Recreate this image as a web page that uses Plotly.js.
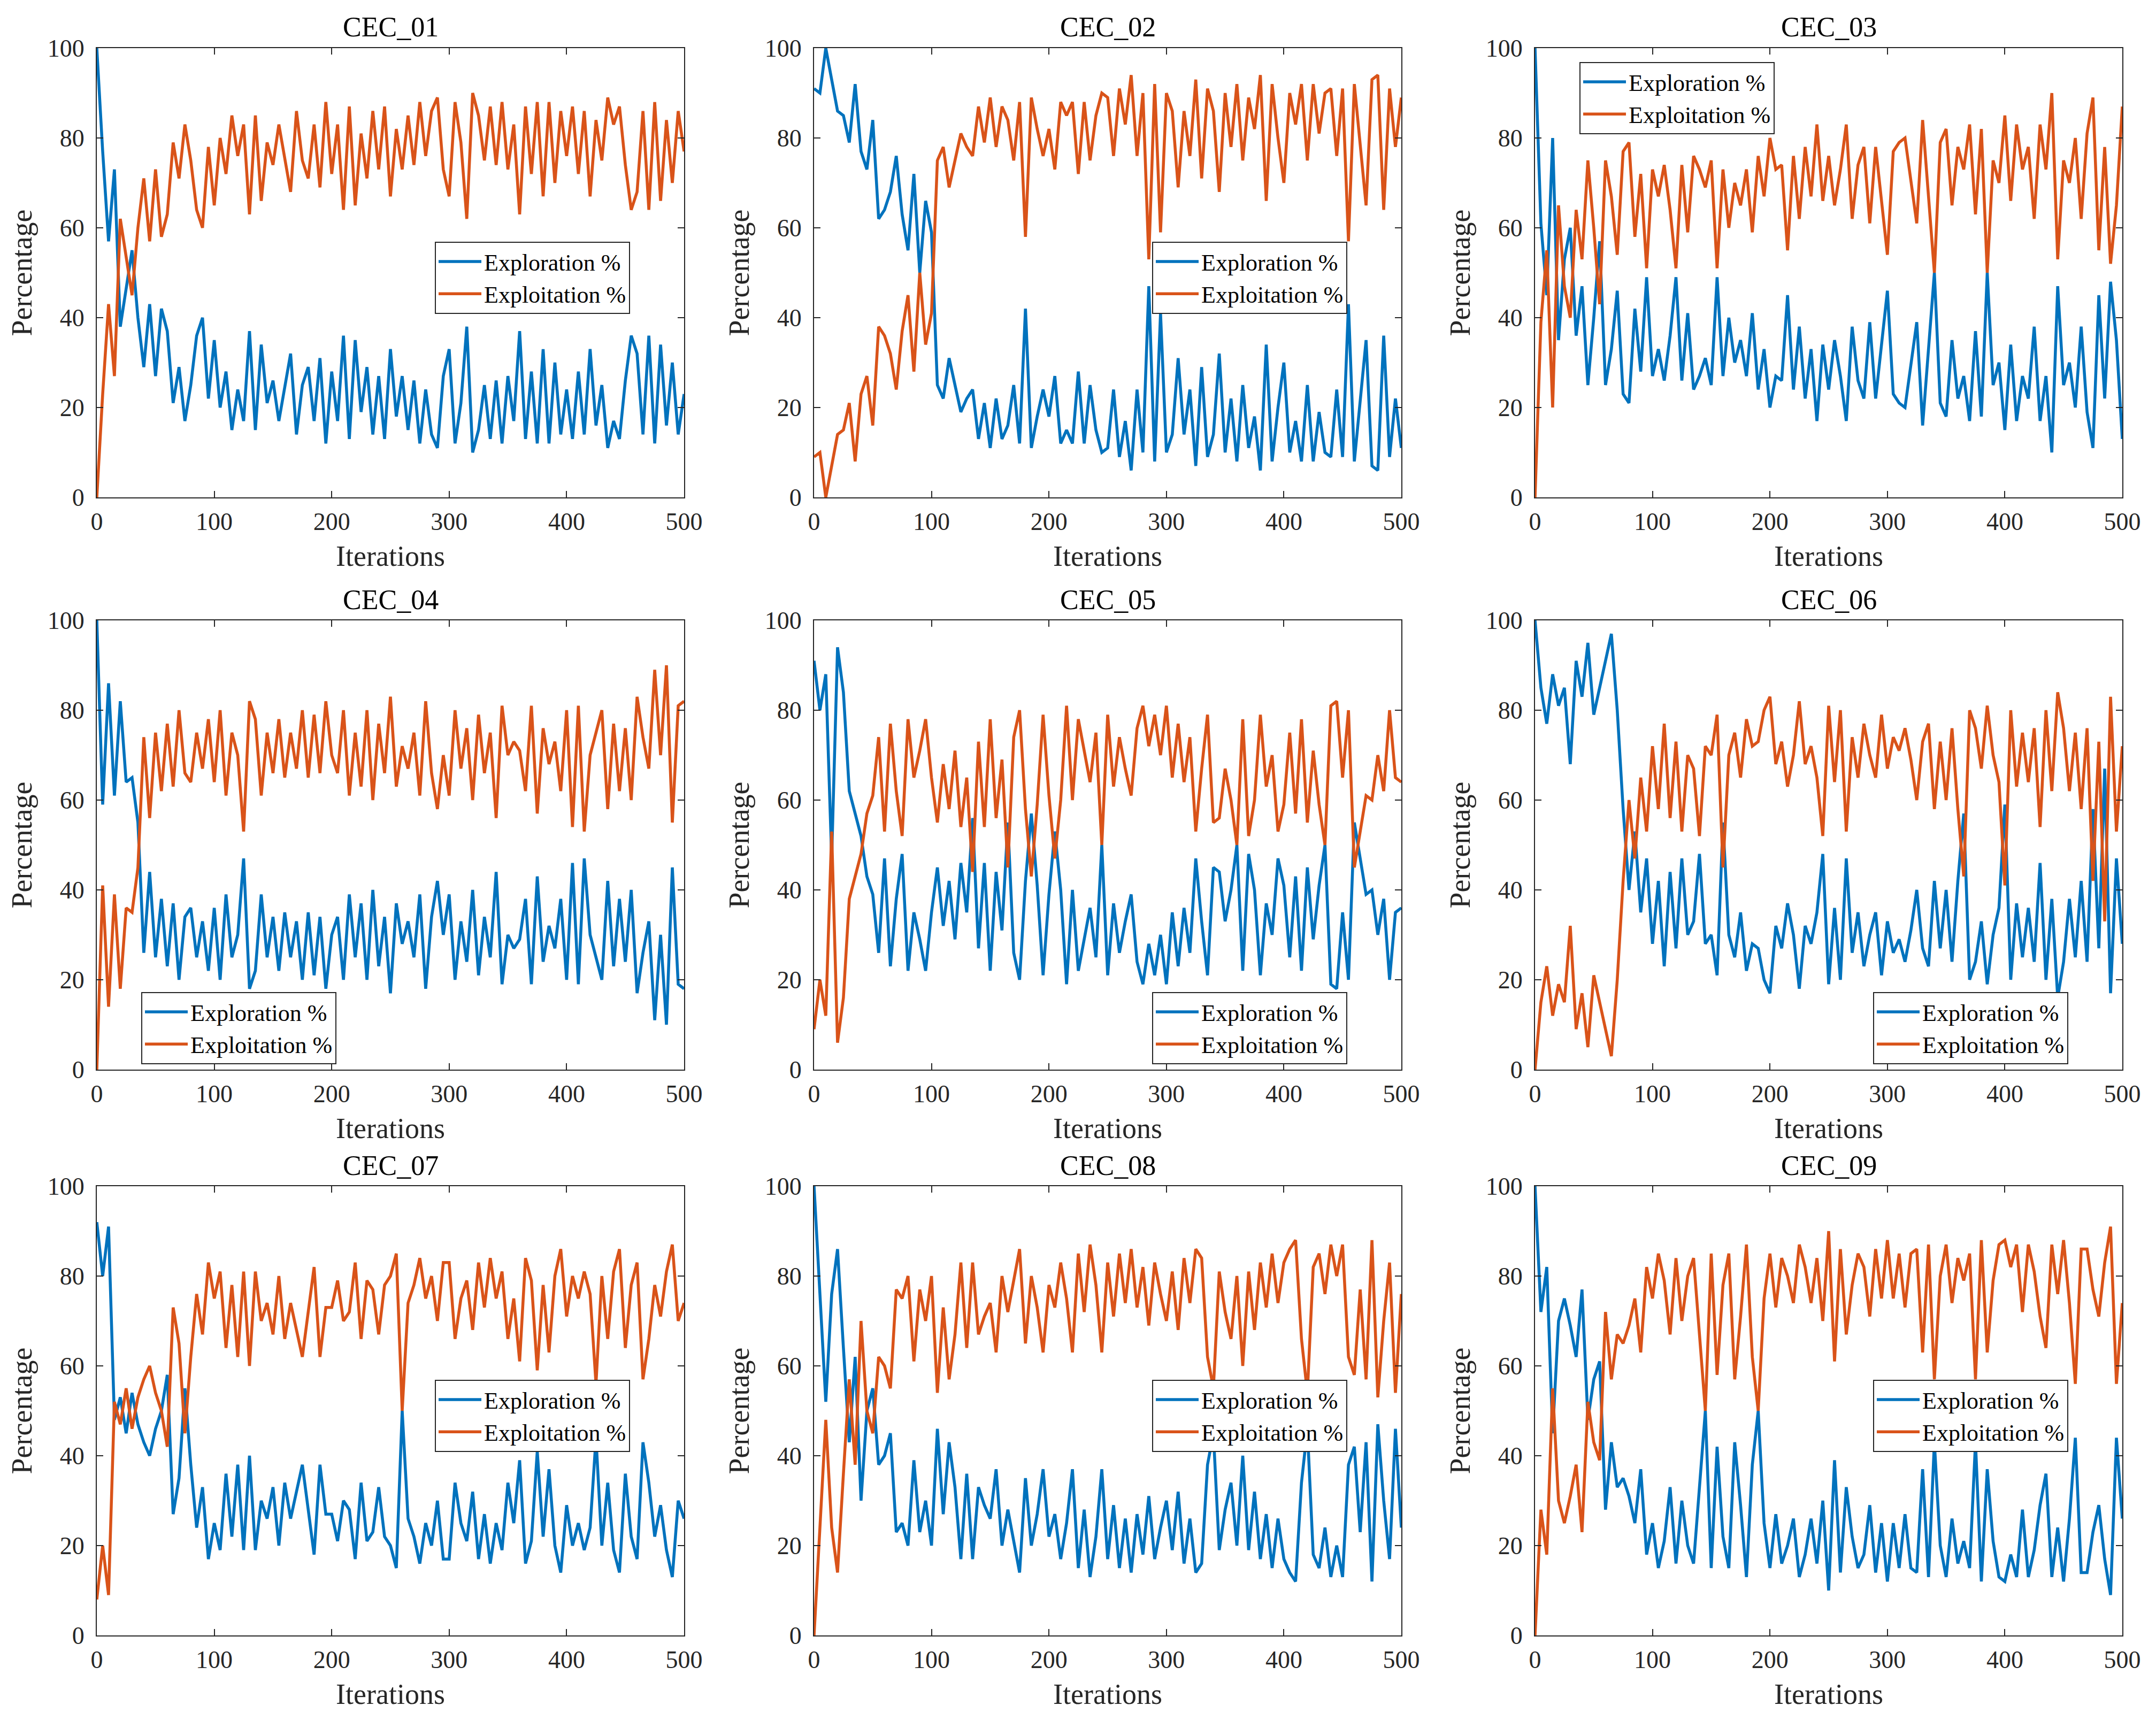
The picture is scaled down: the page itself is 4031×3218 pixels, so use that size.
<!DOCTYPE html>
<html>
<head>
<meta charset="utf-8">
<script src="https://cdn.plot.ly/plotly-3.0.1.min.js"></script>
<style>
body { margin: 0; background: #ffffff; }
#chart { width: 4031px; height: 3218px; }
</style>
</head>
<body>
<div id="chart"></div>
<script>
// iteration index of each sampled point (read every 5 iterations)
var iterations = [0,5,10,15,20,25,30,35,40,45,50,55,60,65,70,75,80,85,90,95,
    100,105,110,115,120,125,130,135,140,145,150,155,160,165,170,175,180,185,190,195,
    200,205,210,215,220,225,230,235,240,245,250,255,260,265,270,275,280,285,290,295,
    300,305,310,315,320,325,330,335,340,345,350,355,360,365,370,375,380,385,390,395,
    400,405,410,415,420,425,430,435,440,445,450,455,460,465,470,475,480,485,490,495,500];

var funcNames = ['CEC_01','CEC_02','CEC_03','CEC_04','CEC_05','CEC_06','CEC_07','CEC_08','CEC_09'];
var seriesNames = ['Exploration %', 'Exploitation %'];
var xTicks = [0,100,200,300,400,500];
var yTicks = [0,20,40,60,80,100];

var explore01 = [100,77,57,73,38,47,55,40,29,43, 27,42,37,21,29,17,25,36,40,22, 35,20,28,15,24,17,37,15,34,21, 26,17,25,32,14,25,29,17,31,12, 28,17,36,13,35,19,29,14,27,13, 33,18,27,15,26,12,24,14,11,27, 33,12,21,38,10,15,25,13,26,12, 27,17,37,13,28,12,33,12,30,14, 24,13,28,14,33,16,25,11,17,13, 26,36,32,14,36,12,34,16,30,14, 23];
var exploit01 = [0,23,43,27,62,53,45,60,71,57, 73,58,63,79,71,83,75,64,60,78, 65,80,72,85,76,83,63,85,66,79, 74,83,75,68,86,75,71,83,69,88, 72,83,64,87,65,81,71,86,73,87, 67,82,73,85,74,88,76,86,89,73, 67,88,79,62,90,85,75,87,74,88, 73,83,63,87,72,88,67,88,70,86, 76,87,72,86,67,84,75,89,83,87, 74,64,68,86,64,88,66,84,70,86, 77];

var explore02 = [91,90,100,93,86,85,79,92,77,73, 84,62,64,68,76,63,55,72,50,66, 59,25,22,31,25,19,22,24,13,21, 11,22,13,16,25,12,42,11,18,24, 18,27,12,15,12,28,12,25,15,10, 11,24,9,17,6,24,10,47,8,41, 10,14,31,14,24,7,29,9,14,32, 10,22,8,25,11,18,6,34,8,20, 30,10,17,8,25,8,19,10,9,24, 9,43,8,21,35,7,6,36,9,22, 11];
var exploit02 = [9,10,0,7,14,15,21,8,23,27, 16,38,36,32,24,37,45,28,50,34, 41,75,78,69,75,81,78,76,87,79, 89,78,87,84,75,88,58,89,82,76, 82,73,88,85,88,72,88,75,85,90, 89,76,91,83,94,76,90,53,92,59, 90,86,69,86,76,93,71,91,86,68, 90,78,92,75,89,82,94,66,92,80, 70,90,83,92,75,92,81,90,91,76, 91,57,92,79,65,93,94,64,91,78, 89];

var explore03 = [100,61,45,80,35,53,60,36,47,25, 40,57,25,33,46,23,21,42,28,49, 27,33,26,36,49,26,41,24,27,31, 25,49,27,40,30,35,27,41,24,33, 20,27,26,45,24,38,22,33,17,34, 24,35,27,17,38,26,22,39,22,34, 46,23,21,20,29,39,16,34,50,21, 18,35,22,27,17,37,18,50,25,30, 15,34,17,27,22,38,17,27,10,47, 25,30,20,38,19,11,45,22,48,35, 13];
var exploit03 = [0,39,55,20,65,47,40,64,53,75, 60,43,75,67,54,77,79,58,72,51, 73,67,74,64,51,74,59,76,73,69, 75,51,73,60,70,65,73,59,76,67, 80,73,74,55,76,62,78,67,83,66, 76,65,73,83,62,74,78,61,78,66, 54,77,79,80,71,61,84,66,50,79, 82,65,78,73,83,63,82,50,75,70, 85,66,83,73,78,62,83,73,90,53, 75,70,80,62,81,89,55,78,52,65, 87];

var explore04 = [100,59,86,61,82,64,65,55,26,44, 25,38,23,37,20,34,36,25,33,22, 36,20,39,25,30,47,18,22,39,25, 34,22,35,25,33,20,35,21,34,18, 30,34,20,39,25,37,20,40,23,34, 17,37,28,33,25,39,18,34,42,30, 39,20,33,24,40,21,34,25,44,19, 30,27,29,38,19,43,24,32,27,38, 20,46,19,47,30,25,20,42,23,38, 24,40,17,26,33,11,30,10,45,19, 18];
var exploit04 = [0,41,14,39,18,36,35,45,74,56, 75,62,77,63,80,66,64,75,67,78, 64,80,61,75,70,53,82,78,61,75, 66,78,65,75,67,80,65,79,66,82, 70,66,80,61,75,63,80,60,77,66, 83,63,72,67,75,61,82,66,58,70, 61,80,67,76,60,79,66,75,56,81, 70,73,71,62,81,57,76,68,73,62, 80,54,81,53,70,75,80,58,77,62, 76,60,83,74,67,89,70,90,55,81, 82];

var explore05 = [91,80,88,47,94,84,62,57,52,43, 39,26,47,23,38,48,22,35,29,22, 35,45,32,42,29,46,35,56,27,46, 22,44,31,55,26,20,42,57,41,21, 39,53,40,19,40,22,29,36,25,50, 21,37,26,33,39,24,19,28,21,30, 19,35,23,36,26,47,33,21,45,44, 33,40,50,22,48,40,21,37,30,47, 41,25,43,22,45,29,41,50,19,18, 35,20,55,47,39,40,30,38,20,35, 36];
var exploit05 = [9,20,12,53,6,16,38,43,48,57, 61,74,53,77,62,52,78,65,71,78, 65,55,68,58,71,54,65,44,73,54, 78,56,69,45,74,80,58,43,59,79, 61,47,60,81,60,78,71,64,75,50, 79,63,74,67,61,76,81,72,79,70, 81,65,77,64,74,53,67,79,55,56, 67,60,50,78,52,60,79,63,70,53, 59,75,57,78,55,71,59,50,81,82, 65,80,45,53,61,60,70,62,80,65, 64];

var explore06 = [100,85,77,88,81,85,68,91,83,95, 79,85,91,97,80,58,40,53,35,47, 28,42,23,44,27,47,30,33,48,28, 30,21,55,30,25,35,22,28,27,20, 17,32,27,37,30,18,32,28,35,48, 19,36,20,47,26,35,23,30,35,21, 33,26,29,24,31,40,27,23,42,27, 40,24,42,57,20,24,33,19,30,36, 59,20,37,25,36,24,46,20,38,16, 24,38,25,42,24,58,27,67,17,47, 28];
var exploit06 = [0,15,23,12,19,15,32,9,17,5, 21,15,9,3,20,42,60,47,65,53, 72,58,77,56,73,53,70,67,52,72, 70,79,45,70,75,65,78,72,73,80, 83,68,73,63,70,82,68,72,65,52, 81,64,80,53,74,65,77,70,65,79, 67,74,71,76,69,60,73,77,58,73, 60,76,58,43,80,76,67,81,70,64, 41,80,63,75,64,76,54,80,62,84, 76,62,75,58,76,42,73,33,83,53, 72];

var explore07 = [92,80,91,48,53,45,54,47,43,40, 46,50,58,27,35,55,38,24,33,17, 25,19,36,22,38,19,40,19,30,26, 33,20,34,26,32,38,28,18,38,27, 27,21,30,28,17,34,21,23,33,22, 20,15,50,26,22,16,25,20,30,17, 17,34,25,21,32,17,27,16,25,19, 34,25,39,16,21,41,22,37,20,14, 29,20,25,19,24,44,20,34,19,14, 36,22,17,43,34,22,29,19,13,30, 26];
var exploit07 = [8,20,9,52,47,55,46,53,57,60, 54,50,42,73,65,45,62,76,67,83, 75,81,64,78,62,81,60,81,70,74, 67,80,66,74,68,62,72,82,62,73, 73,79,70,72,83,66,79,77,67,78, 80,85,50,74,78,84,75,80,70,83, 83,66,75,79,68,83,73,84,75,81, 66,75,61,84,79,59,78,63,80,86, 71,80,75,81,76,56,80,66,81,86, 64,78,83,57,66,78,71,81,87,70, 74];

var explore08 = [100,75,52,76,86,64,43,62,30,50, 55,38,40,45,23,25,20,39,23,30, 20,46,27,43,33,17,36,17,33,29, 26,37,20,28,21,14,35,20,27,37, 22,27,17,25,37,15,28,13,22,37, 17,29,15,26,14,27,18,31,17,24, 30,19,32,16,26,14,16,38,45,19, 28,34,20,40,19,32,17,27,15,26, 17,14,12,34,46,18,15,24,13,20, 13,38,42,23,43,12,47,30,17,46, 24];
var exploit08 = [0,25,48,24,14,36,57,38,70,50, 45,62,60,55,77,75,80,61,77,70, 80,54,73,57,67,83,64,83,67,71, 74,63,80,72,79,86,65,80,73,63, 78,73,83,75,63,85,72,87,78,63, 83,71,85,74,86,73,82,69,83,76, 70,81,68,84,74,86,84,62,55,81, 72,66,80,60,81,68,83,73,85,74, 83,86,88,66,54,82,85,76,87,80, 87,62,58,77,57,88,53,70,83,54, 76];

var explore09 = [100,72,82,45,70,75,69,62,77,48, 57,61,28,43,33,35,31,25,37,18, 25,15,21,33,16,30,20,16,33,50, 15,42,22,15,43,29,13,38,50,25, 15,27,16,20,26,13,18,26,16,30, 10,39,14,33,22,15,18,29,14,25, 12,25,15,27,15,14,37,13,43,20, 13,26,16,21,15,43,12,37,21,13, 12,18,13,28,13,19,29,36,13,24, 12,26,44,14,14,23,29,17,9,44, 26];
var exploit09 = [0,28,18,55,30,25,31,38,23,52, 43,39,72,57,67,65,69,75,63,82, 75,85,79,67,84,70,80,84,67,50, 85,58,78,85,57,71,87,62,50,75, 85,73,84,80,74,87,82,74,84,70, 90,61,86,67,78,85,82,71,86,75, 88,75,85,73,85,86,63,87,57,80, 87,74,84,79,85,57,88,63,79,87, 88,82,87,72,87,81,71,64,87,76, 88,74,56,86,86,77,71,83,91,56, 74];

var exploreAll = [explore01, explore02, explore03, explore04, explore05, explore06, explore07, explore08, explore09];
var exploitAll = [exploit01, exploit02, exploit03, exploit04, exploit05, exploit06, exploit07, exploit08, exploit09];

// page geometry, in pixels
var W = 4031, H = 3218;
var colLeft = [181, 1522, 2870];
var rowTop = [90, 1160, 2218];
var plotW = 1098, plotH = 840;
// legend top-left corner relative to the plot box
var legendOffset = [[632,362],[632,362],[83,26],[83,695],[632,695],[632,695],[632,362],[632,362],[632,362]];

var blue = '#0072BD';
var orange = '#D95319';
var axisColor = '#262626';
var serif = 'Liberation Serif, Times New Roman, serif';

var traces = [];
var layout = {
    width: W,
    height: H,
    margin: {l: 0, r: 0, t: 0, b: 0},
    paper_bgcolor: '#ffffff',
    plot_bgcolor: '#ffffff',
    showlegend: true,
    annotations: []
};

for (var i = 0; i < 9; i++) {
    var col = i % 3;
    var row = Math.floor(i / 3);
    var sfx = i === 0 ? '' : String(i + 1);
    var x0 = colLeft[col] / W, x1 = (colLeft[col] + plotW) / W;
    var y1 = 1 - rowTop[row] / H, y0 = 1 - (rowTop[row] + plotH) / H;
    var legName = i === 0 ? 'legend' : 'legend' + (i + 1);

    traces.push({
        x: iterations, y: exploreAll[i], type: 'scatter', mode: 'lines',
        name: seriesNames[0], xaxis: 'x' + sfx, yaxis: 'y' + sfx, legend: legName,
        line: {color: blue, width: 5.5}
    });
    traces.push({
        x: iterations, y: exploitAll[i], type: 'scatter', mode: 'lines',
        name: seriesNames[1], xaxis: 'x' + sfx, yaxis: 'y' + sfx, legend: legName,
        line: {color: orange, width: 5.5}
    });

    layout['xaxis' + sfx] = {
        domain: [x0, x1], anchor: 'y' + sfx,
        range: [0, 500], tickvals: xTicks,
        ticks: 'inside', ticklen: 12, tickwidth: 2, tickcolor: axisColor,
        showline: true, linecolor: axisColor, linewidth: 2, mirror: 'ticks',
        showgrid: false, zeroline: false,
        tickfont: {family: serif, size: 46, color: axisColor},
        ticklabelstandoff: 4,
        title: {text: 'Iterations', font: {family: serif, size: 54, color: axisColor}, standoff: 20}
    };
    layout['yaxis' + sfx] = {
        domain: [y0, y1], anchor: 'x' + sfx,
        range: [0, 100], tickvals: yTicks,
        ticks: 'inside', ticklen: 12, tickwidth: 2, tickcolor: axisColor,
        showline: true, linecolor: axisColor, linewidth: 2, mirror: 'ticks',
        showgrid: false, zeroline: false,
        tickfont: {family: serif, size: 46, color: axisColor},
        ticklabelstandoff: 12,
        title: {text: 'Percentage', font: {family: serif, size: 54, color: axisColor}, standoff: 12}
    };

    layout[legName] = {
        x: (colLeft[col] + legendOffset[i][0]) / W,
        y: 1 - (rowTop[row] + legendOffset[i][1]) / H,
        xanchor: 'left', yanchor: 'top',
        bgcolor: '#ffffff', bordercolor: axisColor, borderwidth: 2,
        font: {family: serif, size: 44, color: '#000000'},
        itemwidth: 80, tracegroupgap: 0
    };

    layout.annotations.push({
        text: funcNames[i], xref: 'paper', yref: 'paper',
        x: (x0 + x1) / 2, y: 1 - (rowTop[row] - 39) / H,
        xanchor: 'center', yanchor: 'middle', showarrow: false,
        font: {family: serif, size: 52, color: '#000000'}
    });
}

Plotly.newPlot('chart', traces, layout, {displayModeBar: false, staticPlot: true});
</script>
</body>
</html>
